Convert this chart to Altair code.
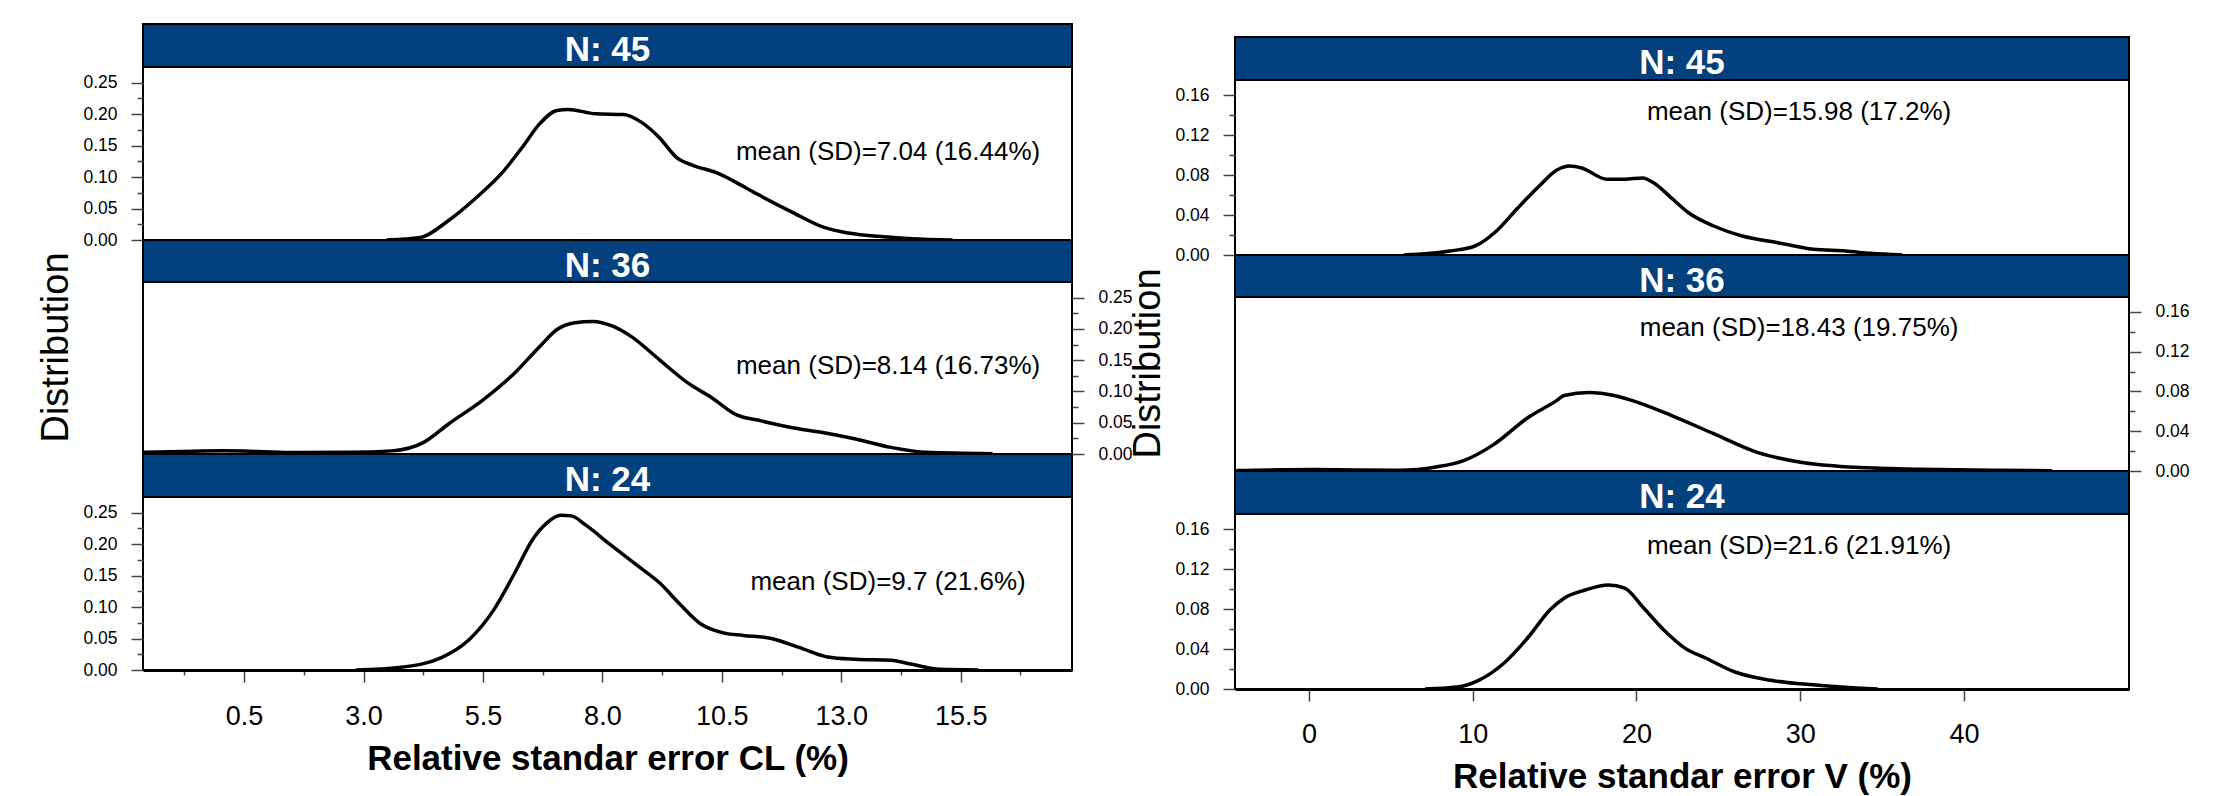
import altair as alt
import pandas as pd

FONT = "Liberation Sans"
STRIP_FILL = "#02407e"

# ---------------- data ----------------
strip_labels = ["N: 45", "N: 36", "N: 24"]

cl_x_45 = [3.48, 4.19, 4.78, 5.37, 5.88, 6.32, 6.69, 7.05, 7.28, 7.86, 8.45, 8.82, 9.19, 9.55,
           9.92, 10.36, 10.73, 11.24, 11.98, 12.64, 13.15, 13.89, 14.48, 15.33]
cl_y_45 = [0.000, 0.004, 0.031, 0.068, 0.105, 0.147, 0.185, 0.206, 0.2075, 0.2006, 0.1995, 0.187,
           0.163, 0.1315, 0.118, 0.1077, 0.0944, 0.073, 0.044, 0.020, 0.011, 0.005, 0.002, 0.000]

cl_x_36 = [-1.6, -0.8, 0.07, 0.8, 1.54, 2.72, 3.60, 4.26, 4.78, 5.51, 6.17, 6.69, 7.05, 7.42,
           7.79, 8.23, 8.60, 9.19, 9.78, 10.29, 10.80, 11.32, 11.98, 12.64, 13.30, 14.04, 14.77, 16.17]
cl_y_36 = [0.0027, 0.004, 0.005, 0.004, 0.0025, 0.0027, 0.005, 0.0186, 0.048, 0.087, 0.130, 0.172,
           0.199, 0.210, 0.212, 0.204, 0.188, 0.151, 0.114, 0.090, 0.063, 0.053, 0.042, 0.034,
           0.024, 0.0106, 0.0027, 0.0005]

cl_x_24 = [2.84, 3.75, 4.63, 5.22, 5.73, 6.17, 6.54, 6.84, 7.13, 7.35, 7.64, 8.16, 8.75, 9.19,
           9.63, 10.07, 10.51, 10.95, 11.54, 12.13, 12.71, 13.30, 14.04, 14.48, 15.07, 15.87]
cl_y_24 = [0.0, 0.004, 0.0197, 0.049, 0.096, 0.155, 0.2076, 0.234, 0.246, 0.245, 0.231, 0.1996,
           0.165, 0.139, 0.104, 0.0726, 0.0594, 0.055, 0.050, 0.0355, 0.0207, 0.017, 0.0154,
           0.009, 0.001, 0.0]

v_x_45 = [5.79, 8.61, 10.14, 11.45, 12.75, 14.06, 15.14, 15.93, 16.66, 18.19, 19.28, 20.37,
          21.02, 22.11, 23.20, 24.72, 26.46, 28.63, 30.81, 32.77, 34.29, 36.25]
v_y_45 = [0.0, 0.004, 0.009, 0.024, 0.047, 0.069, 0.085, 0.089, 0.087, 0.0758, 0.0758, 0.077,
          0.0725, 0.0574, 0.042, 0.029, 0.019, 0.0123, 0.0057, 0.004, 0.0017, 0.0]

v_x_36 = [-4.44, 0.35, 5.57, 7.75, 9.49, 11.23, 13.40, 15.14, 15.58, 17.10, 18.63, 19.71,
          22.11, 24.72, 27.33, 29.94, 32.99, 37.34, 41.69, 45.39]
v_y_36 = [0.0005, 0.0014, 0.0007, 0.004, 0.0107, 0.026, 0.054, 0.071, 0.076, 0.079, 0.076,
          0.071, 0.056, 0.0375, 0.019, 0.009, 0.004, 0.0017, 0.0007, 0.0003]

v_x_24 = [7.09, 9.05, 10.36, 11.88, 13.40, 14.71, 15.58, 16.88, 18.28, 19.28, 20.37, 21.67,
          22.98, 24.28, 26.02, 28.20, 30.37, 32.55, 34.73]
v_y_24 = [0.0, 0.002, 0.0087, 0.0255, 0.052, 0.079, 0.0908, 0.099, 0.104, 0.1008, 0.0823,
          0.059, 0.0406, 0.0305, 0.017, 0.0087, 0.0047, 0.002, 0.0]

cl_notes = ["mean (SD)=7.04 (16.44%)", "mean (SD)=8.14 (16.73%)", "mean (SD)=9.7 (21.6%)"]
v_notes = ["mean (SD)=15.98 (17.2%)", "mean (SD)=18.43 (19.75%)", "mean (SD)=21.6 (21.91%)"]
cl_note_x = [13.98, 13.98, 13.98]
cl_note_y = [0.14, 0.14, 0.14]
v_note_x = [29.93, 29.93, 29.93]
v_note_y = [0.143, 0.144, 0.143]

cl_x_domain = [-1.616, 17.83]
cl_y_domain = [0, 0.275]
v_x_domain = [-4.52, 50.08]
v_y_domain = [0, 0.175]

cl_x_ticks = [-0.75, 0.5, 1.75, 3.0, 4.25, 5.5, 6.75, 8.0, 9.25, 10.5, 11.75, 13.0, 14.25, 15.5, 16.75]
cl_y_ticks = [0, 0.025, 0.05, 0.075, 0.1, 0.125, 0.15, 0.175, 0.2, 0.225, 0.25]
v_x_ticks = [0, 10, 20, 30, 40]
v_y_ticks = [0, 0.02, 0.04, 0.06, 0.08, 0.1, 0.12, 0.14, 0.16]

CL_Y_MAJOR = "round(datum.value*40) % 2 === 0"
V_Y_MAJOR = "round(datum.value*50) % 2 === 0"
CL_X_MAJOR = "round((datum.value-0.5)/1.25) % 2 === 0"
V_X_MAJOR = "true"

WL, WR = 929, 894
SL = [43, 42, 43]
PL = [173, 172, 173]
SR = [43, 42, 43]
PR = [175, 174, 175]
SPACER_R = 13


def y_axis(orient, values, major, title_y=None):
    kw = dict(orient=orient, values=values,
              labelExpr=f"({major}) ? format(datum.value, '.2f') : ''",
              tickSize={"condition": {"test": major, "value": 12}, "value": 6},
              tickColor="#444444", tickWidth=1.5, labelFontSize=17.5, labelFont=FONT,
              labelColor="black", labelPadding=14, labelOverlap=False, labelFlush=False,
              domain=False, grid=False)
    if title_y is not None:
        kw.update(title="Distribution", titleX=-76, titleY=title_y, titleAngle=270,
                  titleAlign="center", titleBaseline="alphabetic", titleFontSize=38,
                  titleFont=FONT, titleFontWeight="normal", titleColor="black")
    else:
        kw.update(title=None)
    return alt.Axis(**kw)


def x_axis(values, major, fmt, title, pad):
    return alt.Axis(values=values,
                    labelExpr=f"({major}) ? format(datum.value, '{fmt}') : ''",
                    tickSize={"condition": {"test": major, "value": 12}, "value": 5},
                    tickColor="#444444", tickWidth=1.5, labelFontSize=27, labelFont=FONT,
                    labelColor="black", labelPadding=pad, labelOverlap=False, labelFlush=False,
                    domainColor="black", domainWidth=3, grid=False,
                    title=title, titleFontSize=35, titleFont=FONT, titleFontWeight="bold",
                    titleColor="black", titlePadding=12)


def strip(label, W, H):
    df = pd.DataFrame({"t": [label]})
    return alt.Chart(df).mark_text(font=FONT, fontSize=35, fontWeight="bold", color="white",
                                   align="center", baseline="alphabetic").encode(
        text="t:N", x=alt.value(W / 2), y=alt.value(37)
    ).properties(width=W, height=H,
                 view=alt.ViewBackground(fill=STRIP_FILL, stroke="black", strokeWidth=2))


def panel(xs, ys, note, nx, ny, xdom, ydom, xaxis, yaxis, W, H):
    df = pd.DataFrame({"x": xs, "y": ys})
    xs_ = alt.Scale(domain=xdom, nice=False, zero=False)
    ys_ = alt.Scale(domain=ydom, nice=False, zero=False)
    line = alt.Chart(df).mark_line(color="black", strokeWidth=3.5, interpolate="monotone").encode(
        x=alt.X("x:Q", scale=xs_, axis=xaxis),
        y=alt.Y("y:Q", scale=ys_, axis=yaxis),
    )
    tdf = pd.DataFrame({"x": [nx], "y": [ny], "t": [note]})
    text = alt.Chart(tdf).mark_text(font=FONT, fontSize=26, color="black", align="center",
                                    baseline="middle").encode(
        x=alt.X("x:Q", scale=xs_, axis=xaxis),
        y=alt.Y("y:Q", scale=ys_, axis=yaxis),
        text="t:N",
    )
    return alt.layer(line, text).properties(
        width=W, height=H, view=alt.ViewBackground(fill="white", stroke="black", strokeWidth=2))


# ---------------- left figure (CL) ----------------
cl_curves = [(cl_x_45, cl_y_45), (cl_x_36, cl_y_36), (cl_x_24, cl_y_24)]
left_title_y = (sum(SL) + sum(PL)) / 2 - SL[0]
cl_yaxes = [y_axis("left", cl_y_ticks, CL_Y_MAJOR, left_title_y),
            y_axis("right", cl_y_ticks, CL_Y_MAJOR),
            y_axis("left", cl_y_ticks, CL_Y_MAJOR)]
cl_xaxes = [None, None, x_axis(cl_x_ticks, CL_X_MAJOR, ".1f", "Relative standar error CL (%)", 21)]
left_items = []
for i in range(3):
    left_items.append(strip(strip_labels[i], WL, SL[i]))
    left_items.append(panel(cl_curves[i][0], cl_curves[i][1], cl_notes[i], cl_note_x[i], cl_note_y[i],
                            cl_x_domain, cl_y_domain, cl_xaxes[i], cl_yaxes[i], WL, PL[i]))
left = alt.vconcat(*left_items, spacing=0, bounds="flush")

# ---------------- right figure (V) ----------------
v_curves = [(v_x_45, v_y_45), (v_x_36, v_y_36), (v_x_24, v_y_24)]
right_title_y = (sum(SR) + sum(PR)) / 2 - SR[0]
v_yaxes = [y_axis("left", v_y_ticks, V_Y_MAJOR, right_title_y),
           y_axis("right", v_y_ticks, V_Y_MAJOR),
           y_axis("left", v_y_ticks, V_Y_MAJOR)]
v_xaxes = [None, None, x_axis(v_x_ticks, V_X_MAJOR, "d", "Relative standar error V (%)", 20)]

spacer = alt.Chart(pd.DataFrame({"t": [0]})).mark_rect(opacity=0).encode(
    x=alt.value(0), x2=alt.value(WR), y=alt.value(0), y2=alt.value(SPACER_R)
).properties(width=WR, height=SPACER_R, view=alt.ViewBackground(strokeOpacity=0, fillOpacity=0))

right_items = [spacer]
for i in range(3):
    right_items.append(strip(strip_labels[i], WR, SR[i]))
    right_items.append(panel(v_curves[i][0], v_curves[i][1], v_notes[i], v_note_x[i], v_note_y[i],
                             v_x_domain, v_y_domain, v_xaxes[i], v_yaxes[i], WR, PR[i]))
right = alt.vconcat(*right_items, spacing=0, bounds="flush")

chart = alt.hconcat(left, right, spacing=-6).properties(
    padding={"left": 28, "top": 15, "right": 5, "bottom": 2}
).configure(font=FONT)

chart.save("out.html", embed_options={"renderer": "svg", "actions": False})
